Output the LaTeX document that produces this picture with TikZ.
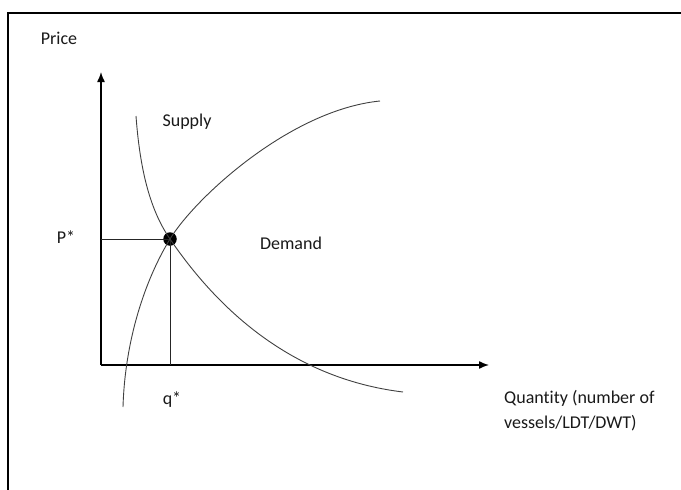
\documentclass[tikz,border=0pt]{standalone}
\usepackage{fontspec}
\setmainfont[Ligatures=NoCommon]{Carlito}
\usetikzlibrary{arrows.meta,positioning}

\begin{document}
\begin{tikzpicture}[x=1pt, y=-1pt, >={Latex[length=10pt,width=8pt]}]
    \tikzset{
        curve/.style={line width=0.9pt, draw=black!75},
        guide/.style={line width=0.9pt, draw=black!85},
        lbl/.style={font=\fontsize{18}{24}\selectfont, text=black!90, inner sep=0pt}
    }
    \useasboundingbox (0,0) rectangle (681,490);

    % Frame round the figure
    \draw[line width=2pt] (8,490) -- (8,13) -- (681,13);

    % Axes
    \coordinate (O) at (101,365);
    \coordinate (Ytip) at (101,72);
    \coordinate (Xtip) at (489,365);
    \draw[->, line width=1.4pt] (O) -- (Ytip);
    \draw[->, line width=1.4pt] (O) -- (Xtip);

    % Equilibrium point and its guide lines
    \node[circle, fill=black, minimum size=13.5pt, inner sep=0pt] (eq) at (170,239) {};
    \draw[guide] (O |- eq) -- (eq.center);
    \draw[guide] (eq.center) -- (eq |- O);

    % The two curves, both through the equilibrium
    \draw[curve] (136,116) .. controls (140,170) and (150,210) .. (eq.center)
        .. controls (215,305) and (288,378) .. (403,392);
    \draw[curve] (123,407) .. controls (125,340) and (145,280) .. (eq.center)
        .. controls (195,198) and (290,110) .. (380,101);

    % Labels
    \node[lbl, anchor=base] (price) at (59,44) {Price};
    \node[lbl, anchor=base] (supply) at (187,126) {Supply};
    \node[lbl, anchor=base] (demand) at (291,249) {Demand};
    \node[lbl, anchor=base] (pstar) at (66,243) {P*};
    \node[lbl, anchor=base] (qstar) at (172,404) {q*};
    \node[lbl, anchor=base west] (qty) at (504,403) {Quantity (number of};
    \node[lbl, anchor=base west] (qtyb) at (504,428) {vessels/LDT/DWT)};
\end{tikzpicture}
\end{document}
